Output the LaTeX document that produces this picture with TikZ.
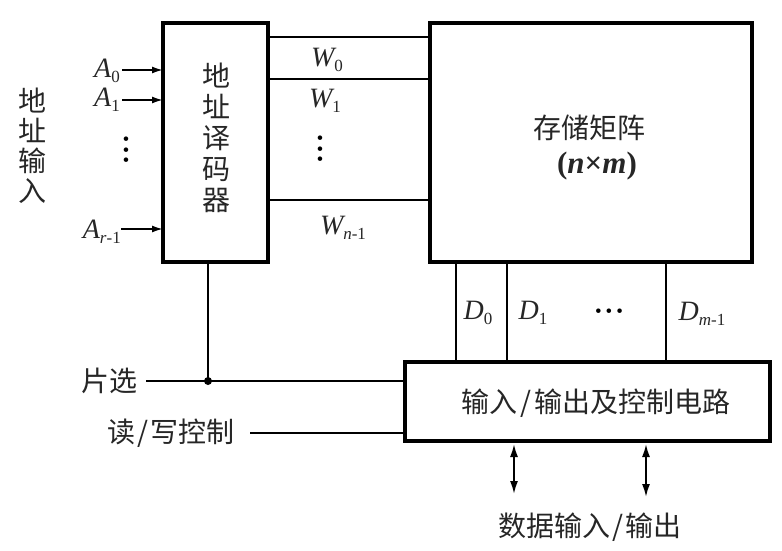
\documentclass[tikz,border=0pt]{standalone}
\usepackage{fontspec}
\newfontfamily\cjk{Noto Sans CJK SC}
\newfontfamily\tms{Liberation Serif}
\usetikzlibrary{arrows.meta}
\newcommand\sy[2]{{\tms\itshape #1}{\tms\fontsize{17}{17}\selectfont\raisebox{-4.5pt}{#2}}}
\begin{document}
\begin{tikzpicture}[x=1pt,y=-1pt,
  box/.style={draw,line width=3.4pt},
  wire/.style={line width=1.8pt},
  cn/.style={font=\cjk\fontsize{28}{31}\selectfont,inner sep=0pt,text=black!85},
  ml/.style={font=\tms\fontsize{28}{30}\selectfont,inner sep=0pt,text=black!85},
  dots/.style={font=\tms\fontsize{19}{19}\selectfont,inner sep=0pt},
  arr/.style={wire,-{Latex[length=11pt,width=7pt]}},
  darr/.style={wire,{Latex[length=13pt,width=8pt]}-{Latex[length=13pt,width=8pt]}}]
\useasboundingbox (0,0) rectangle (782,551);
% boxes
\draw[box] (163,23) rectangle (268,262);
\draw[box] (430,23) rectangle (752,262);
\draw[box] (405,362) rectangle (770,441);
\node[cn,align=center] (dec) at (216,138) {地\\址\\译\\码\\器};
\node[cn,align=center,font=\cjk\fontsize{28}{30}\selectfont] (addr) at (32,146) {地\\址\\输\\入};
\node[cn] (mat) at (589,128) {存储矩阵};
\node[ml,font=\tms\fontsize{31}{33}\selectfont] (nm) at (597,166) {{\bfseries(\textit{n}×\textit{m})}};
\node[cn] (io) at (596,403) {输入\kern3pt/\kern3pt输出及控制电路};
% address inputs
\node[ml,anchor=east] (a0) at (120,71) {\sy{A}{0}};
\node[ml,anchor=east] (a1) at (120,100) {\sy{A}{1}};
\node[dots,rotate=90] (adots) at (128,150) {•\kern4pt•\kern4pt•};
\node[ml,anchor=east] (ar) at (121,232) {\sy{A}{\textit{r}-1}};
\coordinate (a0e) at (163,70);
\coordinate (a1e) at (163,100);
\coordinate (are) at (163,229);
\draw[arr] (a0.east) ++(2,-1) -- (a0e);
\draw[arr] (a1.east) ++(2,0) -- (a1e);
\draw[arr] (ar.east) ++(0,-3) -- (are);
% word lines
\coordinate (w0a) at (268,37); \coordinate (w0b) at (430,37);
\coordinate (w1a) at (268,79); \coordinate (w1b) at (430,79);
\coordinate (wna) at (268,200); \coordinate (wnb) at (430,200);
\draw[wire] (w0a) -- (w0b);
\draw[wire] (w1a) -- (w1b);
\draw[wire] (wna) -- (wnb);
\node[ml] (w0) at (327,60) {\sy{W}{0}};
\node[ml] (w1) at (325,101) {\sy{W}{1}};
\node[dots,rotate=90] (wdots) at (322,149) {•\kern4pt•\kern4pt•};
\node[ml] (wn) at (343,228) {\sy{W}{\textit{n}-1}};
% data lines
\coordinate (d0a) at (456,262); \coordinate (d0b) at (456,362);
\coordinate (d1a) at (507,262); \coordinate (d1b) at (507,362);
\coordinate (dma) at (666,262); \coordinate (dmb) at (666,362);
\draw[wire] (d0a) -- (d0b);
\draw[wire] (d1a) -- (d1b);
\draw[wire] (dma) -- (dmb);
\node[ml] (d0) at (478,313) {\sy{D}{0}};
\node[ml] (d1) at (533,313) {\sy{D}{1}};
\node[dots] (ddots) at (609,313) {•\kern4pt•\kern4pt•};
\node[ml] (dm) at (702,314) {\sy{D}{\textit{m}-1}};
% chip select
\node[cn,anchor=east] (cs) at (138,381) {片选};
\node[cn,anchor=east] (rw) at (235,433) {读\kern2pt/\kern2pt写控制};
\coordinate (csdot) at (208,381);
\coordinate (decb) at (208,262);
\coordinate (csend) at (405,381);
\coordinate (rwend) at (405,433);
\draw[wire] (cs.east) ++(8,0) -- (csend);
\draw[wire] (decb) -- (csdot);
\fill (csdot) circle (4);
\draw[wire] (rw.east) ++(15,0) -- (rwend);
% data in/out
\coordinate (x1a) at (514,444); \coordinate (x1b) at (514,494);
\coordinate (x2a) at (646,444); \coordinate (x2b) at (646,497);
\draw[darr] (x1a) -- (x1b);
\draw[darr] (x2a) -- (x2b);
\node[cn] (dio) at (590,527) {数据输入\kern2pt/\kern2pt输出};
\end{tikzpicture}
\end{document}
